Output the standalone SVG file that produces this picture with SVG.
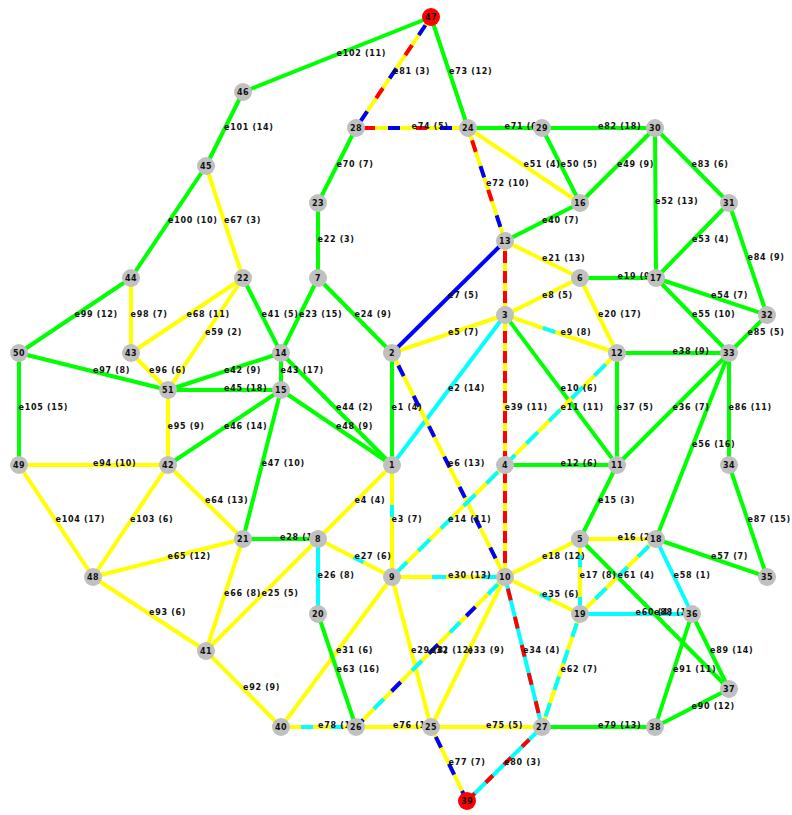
<svg xmlns="http://www.w3.org/2000/svg" width="792" height="815" viewBox="0 0 792 815">
<style>
.edges line{stroke-width:4;fill:none;stroke-linecap:butt}
.G{stroke:#00ff00}.Y{stroke:#ffff00}.C{stroke:#00ffff}.B{stroke:#0000ff}.R{stroke:#ff0000}
.lbl text{font-family:"DejaVu Sans",sans-serif;font-size:8px;font-weight:bold;letter-spacing:0.7px;fill:#111}
.node circle{fill:#c0c0c0}
.node.red circle{fill:#ff0000}
.node text{font-family:"DejaVu Sans",sans-serif;font-size:8px;font-weight:bold;text-anchor:middle;fill:#111;letter-spacing:0.4px}
</style>
<rect width="792" height="815" fill="#ffffff"/>
<g id="connectors" class="edges">
<line class="G" x1="392" y1="353" x2="392" y2="465"/>
<line class="C" x1="505" y1="315" x2="392" y2="465"/>
<line class="Y" x1="392" y1="465" x2="318" y2="539"/>
<line class="Y" x1="392" y1="353" x2="505" y2="315"/>
<line class="B" x1="505" y1="241" x2="392" y2="353"/>
<line class="Y" x1="505" y1="315" x2="580" y2="278"/>
<line class="G" x1="505" y1="315" x2="617" y2="465"/>
<line class="G" x1="505" y1="465" x2="617" y2="465"/>
<line class="G" x1="617" y1="465" x2="580" y2="539"/>
<line class="Y" x1="580" y1="539" x2="656" y2="539"/>
<line class="Y" x1="505" y1="577" x2="580" y2="539"/>
<line class="G" x1="580" y1="278" x2="656" y2="278"/>
<line class="Y" x1="580" y1="278" x2="617" y2="353"/>
<line class="Y" x1="505" y1="241" x2="580" y2="278"/>
<line class="G" x1="318" y1="203" x2="318" y2="278"/>
<line class="G" x1="318" y1="278" x2="281" y2="353"/>
<line class="G" x1="318" y1="278" x2="392" y2="353"/>
<line class="Y" x1="318" y1="539" x2="206" y2="651"/>
<line class="C" x1="318" y1="539" x2="318" y2="614"/>
<line class="G" x1="243" y1="539" x2="318" y2="539"/>
<line class="Y" x1="392" y1="577" x2="431" y2="727"/>
<line class="Y" x1="392" y1="577" x2="281" y2="727"/>
<line class="Y" x1="505" y1="577" x2="431" y2="727"/>
<line class="G" x1="729" y1="353" x2="617" y2="465"/>
<line class="G" x1="617" y1="353" x2="617" y2="465"/>
<line class="G" x1="617" y1="353" x2="729" y2="353"/>
<line class="G" x1="505" y1="241" x2="580" y2="203"/>
<line class="G" x1="243" y1="278" x2="281" y2="353"/>
<line class="G" x1="168" y1="390" x2="281" y2="353"/>
<line class="G" x1="281" y1="353" x2="281" y2="390"/>
<line class="G" x1="281" y1="353" x2="392" y2="465"/>
<line class="G" x1="168" y1="390" x2="281" y2="390"/>
<line class="G" x1="168" y1="465" x2="281" y2="390"/>
<line class="G" x1="281" y1="390" x2="243" y2="539"/>
<line class="G" x1="281" y1="390" x2="392" y2="465"/>
<line class="G" x1="655" y1="128" x2="580" y2="203"/>
<line class="G" x1="542" y1="128" x2="580" y2="203"/>
<line class="Y" x1="468" y1="128" x2="580" y2="203"/>
<line class="G" x1="655" y1="128" x2="656" y2="278"/>
<line class="G" x1="729" y1="203" x2="656" y2="278"/>
<line class="G" x1="656" y1="278" x2="767" y2="315"/>
<line class="G" x1="656" y1="278" x2="729" y2="353"/>
<line class="G" x1="729" y1="353" x2="656" y2="539"/>
<line class="G" x1="656" y1="539" x2="767" y2="577"/>
<line class="C" x1="656" y1="539" x2="692" y2="614"/>
<line class="Y" x1="243" y1="278" x2="168" y2="390"/>
<line class="C" x1="580" y1="614" x2="692" y2="614"/>
<line class="G" x1="318" y1="614" x2="356" y2="727"/>
<line class="Y" x1="168" y1="465" x2="243" y2="539"/>
<line class="Y" x1="93" y1="577" x2="243" y2="539"/>
<line class="Y" x1="243" y1="539" x2="206" y2="651"/>
<line class="Y" x1="206" y1="166" x2="243" y2="278"/>
<line class="Y" x1="243" y1="278" x2="131" y2="353"/>
<line class="G" x1="356" y1="128" x2="318" y2="203"/>
<line class="G" x1="468" y1="128" x2="542" y2="128"/>
<line class="G" x1="431" y1="17" x2="468" y2="128"/>
<line class="Y" x1="431" y1="727" x2="542" y2="727"/>
<line class="Y" x1="356" y1="727" x2="431" y2="727"/>
<line class="G" x1="542" y1="727" x2="655" y2="727"/>
<line class="G" x1="542" y1="128" x2="655" y2="128"/>
<line class="G" x1="655" y1="128" x2="729" y2="203"/>
<line class="G" x1="729" y1="203" x2="767" y2="315"/>
<line class="G" x1="767" y1="315" x2="729" y2="353"/>
<line class="G" x1="729" y1="353" x2="729" y2="465"/>
<line class="G" x1="729" y1="465" x2="767" y2="577"/>
<line class="G" x1="580" y1="539" x2="729" y2="689"/>
<line class="G" x1="692" y1="614" x2="729" y2="689"/>
<line class="G" x1="729" y1="689" x2="655" y2="727"/>
<line class="G" x1="692" y1="614" x2="655" y2="727"/>
<line class="Y" x1="206" y1="651" x2="281" y2="727"/>
<line class="Y" x1="93" y1="577" x2="206" y2="651"/>
<line class="Y" x1="19" y1="465" x2="168" y2="465"/>
<line class="Y" x1="168" y1="390" x2="168" y2="465"/>
<line class="Y" x1="131" y1="353" x2="168" y2="390"/>
<line class="G" x1="19" y1="353" x2="168" y2="390"/>
<line class="Y" x1="131" y1="278" x2="131" y2="353"/>
<line class="G" x1="19" y1="353" x2="131" y2="278"/>
<line class="G" x1="206" y1="166" x2="131" y2="278"/>
<line class="G" x1="243" y1="92" x2="206" y2="166"/>
<line class="G" x1="243" y1="92" x2="431" y2="17"/>
<line class="Y" x1="168" y1="465" x2="93" y2="577"/>
<line class="Y" x1="19" y1="465" x2="93" y2="577"/>
<line class="G" x1="19" y1="353" x2="19" y2="465"/>
<!-- composite edges -->
<line class="Y" x1="392" y1="465" x2="392" y2="577"/>
<line class="C" x1="392" y1="465" x2="392" y2="577" stroke-dasharray="12 500" stroke-dashoffset="-40"/>
<line class="Y" x1="392" y1="353" x2="505" y2="577"/>
<line class="B" x1="392" y1="353" x2="505" y2="577" stroke-dasharray="12 22" stroke-dashoffset="-14"/>
<line class="Y" x1="505" y1="315" x2="617" y2="353"/>
<line class="C" x1="505" y1="315" x2="617" y2="353" stroke-dasharray="13 500" stroke-dashoffset="-40"/>
<line class="Y" x1="617" y1="353" x2="505" y2="465"/>
<line class="C" x1="617" y1="353" x2="505" y2="465" stroke-dasharray="16 16" stroke-dashoffset="-16"/>
<line class="Y" x1="505" y1="465" x2="392" y2="577"/>
<line class="C" x1="505" y1="465" x2="392" y2="577" stroke-dasharray="16 16" stroke-dashoffset="-10"/>
<line class="Y" x1="580" y1="539" x2="580" y2="614"/>
<line class="C" x1="580" y1="539" x2="580" y2="614" stroke-dasharray="12 30" stroke-dashoffset="-16"/>
<line class="Y" x1="318" y1="539" x2="392" y2="577"/>
<line class="C" x1="318" y1="539" x2="392" y2="577" stroke-dasharray="11 500" stroke-dashoffset="-40"/>
<line class="Y" x1="392" y1="577" x2="505" y2="577"/>
<line class="C" x1="392" y1="577" x2="505" y2="577" stroke-dasharray="14 36" stroke-dashoffset="-40"/>
<line class="Y" x1="505" y1="577" x2="356" y2="727"/>
<line class="C" x1="505" y1="577" x2="356" y2="727" stroke-dasharray="14 40" stroke-dashoffset="-10"/>
<line class="B" x1="505" y1="577" x2="356" y2="727" stroke-dasharray="13 40" stroke-dashoffset="-42"/>
<line class="C" x1="505" y1="577" x2="542" y2="727"/>
<line class="R" x1="505" y1="577" x2="542" y2="727" stroke-dasharray="12 17" stroke-dashoffset="-12"/>
<line class="Y" x1="505" y1="577" x2="580" y2="614"/>
<line class="C" x1="505" y1="577" x2="580" y2="614" stroke-dasharray="12 500" stroke-dashoffset="-39"/>
<line class="Y" x1="505" y1="241" x2="505" y2="577"/>
<line class="R" x1="505" y1="241" x2="505" y2="577" stroke-dasharray="12 8" stroke-dashoffset="-10"/>
<line class="Y" x1="656" y1="539" x2="580" y2="614"/>
<line class="C" x1="656" y1="539" x2="580" y2="614" stroke-dasharray="15 15" stroke-dashoffset="-10"/>
<line class="Y" x1="580" y1="614" x2="542" y2="727"/>
<line class="C" x1="580" y1="614" x2="542" y2="727" stroke-dasharray="14 14" stroke-dashoffset="-10"/>
<line class="Y" x1="468" y1="128" x2="505" y2="241"/>
<line class="R" x1="468" y1="128" x2="505" y2="241" stroke-dasharray="12 40" stroke-dashoffset="-13"/>
<line class="B" x1="468" y1="128" x2="505" y2="241" stroke-dasharray="12 40" stroke-dashoffset="-40"/>
<line class="Y" x1="356" y1="128" x2="468" y2="128"/>
<line class="R" x1="356" y1="128" x2="468" y2="128" stroke-dasharray="11 41" stroke-dashoffset="-8"/>
<line class="B" x1="356" y1="128" x2="468" y2="128" stroke-dasharray="12 40" stroke-dashoffset="-32"/>
<line class="Y" x1="431" y1="727" x2="467" y2="801"/>
<line class="B" x1="431" y1="727" x2="467" y2="801" stroke-dasharray="12 18" stroke-dashoffset="-11"/>
<line class="Y" x1="281" y1="727" x2="356" y2="727"/>
<line class="C" x1="281" y1="727" x2="356" y2="727" stroke-dasharray="12 18" stroke-dashoffset="-20"/>
<line class="C" x1="542" y1="727" x2="467" y2="801"/>
<line class="R" x1="542" y1="727" x2="467" y2="801" stroke-dasharray="10 15.5" stroke-dashoffset="-18"/>
<line class="Y" x1="356" y1="128" x2="431" y2="17"/>
<line class="B" x1="356" y1="128" x2="431" y2="17" stroke-dasharray="12 40" stroke-dashoffset="-8"/>
<line class="R" x1="356" y1="128" x2="431" y2="17" stroke-dasharray="12 40" stroke-dashoffset="-36"/>
</g>
<g id="edge-labels" class="lbl">
<text x="391.5" y="410">e1 (4)</text>
<text x="448" y="391">e2 (14)</text>
<text x="391.5" y="522">e3 (7)</text>
<text x="354.5" y="503">e4 (4)</text>
<text x="448" y="335">e5 (7)</text>
<text x="448" y="466">e6 (13)</text>
<text x="448" y="298">e7 (5)</text>
<text x="542" y="297.5">e8 (5)</text>
<text x="560.5" y="335">e9 (8)</text>
<text x="560.5" y="391">e10 (6)</text>
<text x="560.5" y="410">e11 (11)</text>
<text x="560.5" y="466">e12 (6)</text>
<text x="448" y="522">e14 (11)</text>
<text x="598" y="503">e15 (3)</text>
<text x="617.5" y="540">e16 (2)</text>
<text x="579.5" y="577.5">e17 (8)</text>
<text x="542" y="559">e18 (12)</text>
<text x="617.5" y="279">e19 (9)</text>
<text x="598" y="316.5">e20 (17)</text>
<text x="542" y="260.5">e21 (13)</text>
<text x="317.5" y="241.5">e22 (3)</text>
<text x="299" y="316.5">e23 (15)</text>
<text x="354.5" y="316.5">e24 (9)</text>
<text x="261.5" y="596">e25 (5)</text>
<text x="317.5" y="577.5">e26 (8)</text>
<text x="354.5" y="559">e27 (6)</text>
<text x="280" y="540">e28 (10)</text>
<text x="411" y="653">e29 (8)</text>
<text x="448" y="578">e30 (13)</text>
<text x="336" y="653">e31 (6)</text>
<text x="430" y="653">e32 (12)</text>
<text x="467.5" y="653">e33 (9)</text>
<text x="523" y="653">e34 (4)</text>
<text x="542" y="596.5">e35 (6)</text>
<text x="672.5" y="410">e36 (7)</text>
<text x="616.5" y="410">e37 (5)</text>
<text x="672.5" y="354">e38 (9)</text>
<text x="504.5" y="410">e39 (11)</text>
<text x="542" y="223">e40 (7)</text>
<text x="261.5" y="316.5">e41 (5)</text>
<text x="224" y="372.5">e42 (9)</text>
<text x="280.5" y="372.5">e43 (17)</text>
<text x="336" y="410">e44 (2)</text>
<text x="224" y="391">e45 (18)</text>
<text x="224" y="428.5">e46 (14)</text>
<text x="261.5" y="465.5">e47 (10)</text>
<text x="336" y="428.5">e48 (9)</text>
<text x="617" y="166.5">e49 (9)</text>
<text x="560.5" y="166.5">e50 (5)</text>
<text x="523.5" y="166.5">e51 (4)</text>
<text x="655" y="204">e52 (13)</text>
<text x="692" y="241.5">e53 (4)</text>
<text x="711" y="297.5">e54 (7)</text>
<text x="692" y="316.5">e55 (10)</text>
<text x="692" y="447">e56 (16)</text>
<text x="711" y="559">e57 (7)</text>
<text x="673.5" y="577.5">e58 (1)</text>
<text x="205" y="335">e59 (2)</text>
<text x="635.5" y="615">e60 (4)</text>
<text x="617.5" y="577.5">e61 (4)</text>
<text x="560.5" y="671.5">e62 (7)</text>
<text x="336.5" y="671.5">e63 (16)</text>
<text x="205" y="503">e64 (13)</text>
<text x="167.5" y="559">e65 (12)</text>
<text x="224" y="596">e66 (8)</text>
<text x="224" y="223">e67 (3)</text>
<text x="186.5" y="316.5">e68 (11)</text>
<text x="336.5" y="166.5">e70 (7)</text>
<text x="504.5" y="129">e71 (6)</text>
<text x="486" y="185.5">e72 (10)</text>
<text x="449" y="73.5">e73 (12)</text>
<text x="411.5" y="129">e74 (5)</text>
<text x="486" y="728">e75 (5)</text>
<text x="393" y="728">e76 (10)</text>
<text x="448.5" y="765">e77 (7)</text>
<text x="318" y="728">e78 (10)</text>
<text x="598" y="728">e79 (13)</text>
<text x="504" y="765">e80 (3)</text>
<text x="393" y="73.5">e81 (3)</text>
<text x="598" y="129">e82 (18)</text>
<text x="691.5" y="166.5">e83 (6)</text>
<text x="747.5" y="260">e84 (9)</text>
<text x="747.5" y="335">e85 (5)</text>
<text x="728.5" y="410">e86 (11)</text>
<text x="747.5" y="522">e87 (15)</text>
<text x="654" y="615">e88 (11)</text>
<text x="710" y="652.5">e89 (14)</text>
<text x="691.5" y="709">e90 (12)</text>
<text x="673" y="671.5">e91 (11)</text>
<text x="243" y="690">e92 (9)</text>
<text x="149" y="615">e93 (6)</text>
<text x="93" y="466">e94 (10)</text>
<text x="167.5" y="428.5">e95 (9)</text>
<text x="149" y="372.5">e96 (6)</text>
<text x="93" y="372.5">e97 (8)</text>
<text x="130.5" y="316.5">e98 (7)</text>
<text x="74.5" y="316.5">e99 (12)</text>
<text x="168" y="223">e100 (10)</text>
<text x="224" y="130">e101 (14)</text>
<text x="336.5" y="55.5">e102 (11)</text>
<text x="130" y="522">e103 (6)</text>
<text x="55.5" y="522">e104 (17)</text>
<text x="18.5" y="410">e105 (15)</text>
</g>
<g id="nodes">
<g id="n47" class="node red"><circle cx="431" cy="17" r="9"/><text x="431" y="20">47</text></g>
<g id="n46" class="node"><circle cx="243" cy="92" r="9"/><text x="243" y="95">46</text></g>
<g id="n45" class="node"><circle cx="206" cy="166" r="9"/><text x="206" y="169">45</text></g>
<g id="n28" class="node"><circle cx="356" cy="128" r="9"/><text x="356" y="131">28</text></g>
<g id="n24" class="node"><circle cx="468" cy="128" r="9"/><text x="468" y="131">24</text></g>
<g id="n29" class="node"><circle cx="542" cy="128" r="9"/><text x="542" y="131">29</text></g>
<g id="n30" class="node"><circle cx="655" cy="128" r="9"/><text x="655" y="131">30</text></g>
<g id="n23" class="node"><circle cx="318" cy="203" r="9"/><text x="318" y="206">23</text></g>
<g id="n16" class="node"><circle cx="580" cy="203" r="9"/><text x="580" y="206">16</text></g>
<g id="n31" class="node"><circle cx="729" cy="203" r="9"/><text x="729" y="206">31</text></g>
<g id="n13" class="node"><circle cx="505" cy="241" r="9"/><text x="505" y="244">13</text></g>
<g id="n44" class="node"><circle cx="131" cy="278" r="9"/><text x="131" y="281">44</text></g>
<g id="n22" class="node"><circle cx="243" cy="278" r="9"/><text x="243" y="281">22</text></g>
<g id="n7" class="node"><circle cx="318" cy="278" r="9"/><text x="318" y="281">7</text></g>
<g id="n6" class="node"><circle cx="580" cy="278" r="9"/><text x="580" y="281">6</text></g>
<g id="n17" class="node"><circle cx="656" cy="278" r="9"/><text x="656" y="281">17</text></g>
<g id="n32" class="node"><circle cx="767" cy="315" r="9"/><text x="767" y="318">32</text></g>
<g id="n3" class="node"><circle cx="505" cy="315" r="9"/><text x="505" y="318">3</text></g>
<g id="n50" class="node"><circle cx="19" cy="353" r="9"/><text x="19" y="356">50</text></g>
<g id="n43" class="node"><circle cx="131" cy="353" r="9"/><text x="131" y="356">43</text></g>
<g id="n14" class="node"><circle cx="281" cy="353" r="9"/><text x="281" y="356">14</text></g>
<g id="n2" class="node"><circle cx="392" cy="353" r="9"/><text x="392" y="356">2</text></g>
<g id="n12" class="node"><circle cx="617" cy="353" r="9"/><text x="617" y="356">12</text></g>
<g id="n33" class="node"><circle cx="729" cy="353" r="9"/><text x="729" y="356">33</text></g>
<g id="n51" class="node"><circle cx="168" cy="390" r="9"/><text x="168" y="393">51</text></g>
<g id="n15" class="node"><circle cx="281" cy="390" r="9"/><text x="281" y="393">15</text></g>
<g id="n49" class="node"><circle cx="19" cy="465" r="9"/><text x="19" y="468">49</text></g>
<g id="n42" class="node"><circle cx="168" cy="465" r="9"/><text x="168" y="468">42</text></g>
<g id="n1" class="node"><circle cx="392" cy="465" r="9"/><text x="392" y="468">1</text></g>
<g id="n4" class="node"><circle cx="505" cy="465" r="9"/><text x="505" y="468">4</text></g>
<g id="n11" class="node"><circle cx="617" cy="465" r="9"/><text x="617" y="468">11</text></g>
<g id="n34" class="node"><circle cx="729" cy="465" r="9"/><text x="729" y="468">34</text></g>
<g id="n21" class="node"><circle cx="243" cy="539" r="9"/><text x="243" y="542">21</text></g>
<g id="n8" class="node"><circle cx="318" cy="539" r="9"/><text x="318" y="542">8</text></g>
<g id="n5" class="node"><circle cx="580" cy="539" r="9"/><text x="580" y="542">5</text></g>
<g id="n18" class="node"><circle cx="656" cy="539" r="9"/><text x="656" y="542">18</text></g>
<g id="n48" class="node"><circle cx="93" cy="577" r="9"/><text x="93" y="580">48</text></g>
<g id="n9" class="node"><circle cx="392" cy="577" r="9"/><text x="392" y="580">9</text></g>
<g id="n10" class="node"><circle cx="505" cy="577" r="9"/><text x="505" y="580">10</text></g>
<g id="n35" class="node"><circle cx="767" cy="577" r="9"/><text x="767" y="580">35</text></g>
<g id="n20" class="node"><circle cx="318" cy="614" r="9"/><text x="318" y="617">20</text></g>
<g id="n19" class="node"><circle cx="580" cy="614" r="9"/><text x="580" y="617">19</text></g>
<g id="n36" class="node"><circle cx="692" cy="614" r="9"/><text x="692" y="617">36</text></g>
<g id="n41" class="node"><circle cx="206" cy="651" r="9"/><text x="206" y="654">41</text></g>
<g id="n37" class="node"><circle cx="729" cy="689" r="9"/><text x="729" y="692">37</text></g>
<g id="n40" class="node"><circle cx="281" cy="727" r="9"/><text x="281" y="730">40</text></g>
<g id="n26" class="node"><circle cx="356" cy="727" r="9"/><text x="356" y="730">26</text></g>
<g id="n25" class="node"><circle cx="431" cy="727" r="9"/><text x="431" y="730">25</text></g>
<g id="n27" class="node"><circle cx="542" cy="727" r="9"/><text x="542" y="730">27</text></g>
<g id="n38" class="node"><circle cx="655" cy="727" r="9"/><text x="655" y="730">38</text></g>
<g id="n39" class="node red"><circle cx="467" cy="801" r="9"/><text x="467" y="804">39</text></g>
</g>
</svg>
